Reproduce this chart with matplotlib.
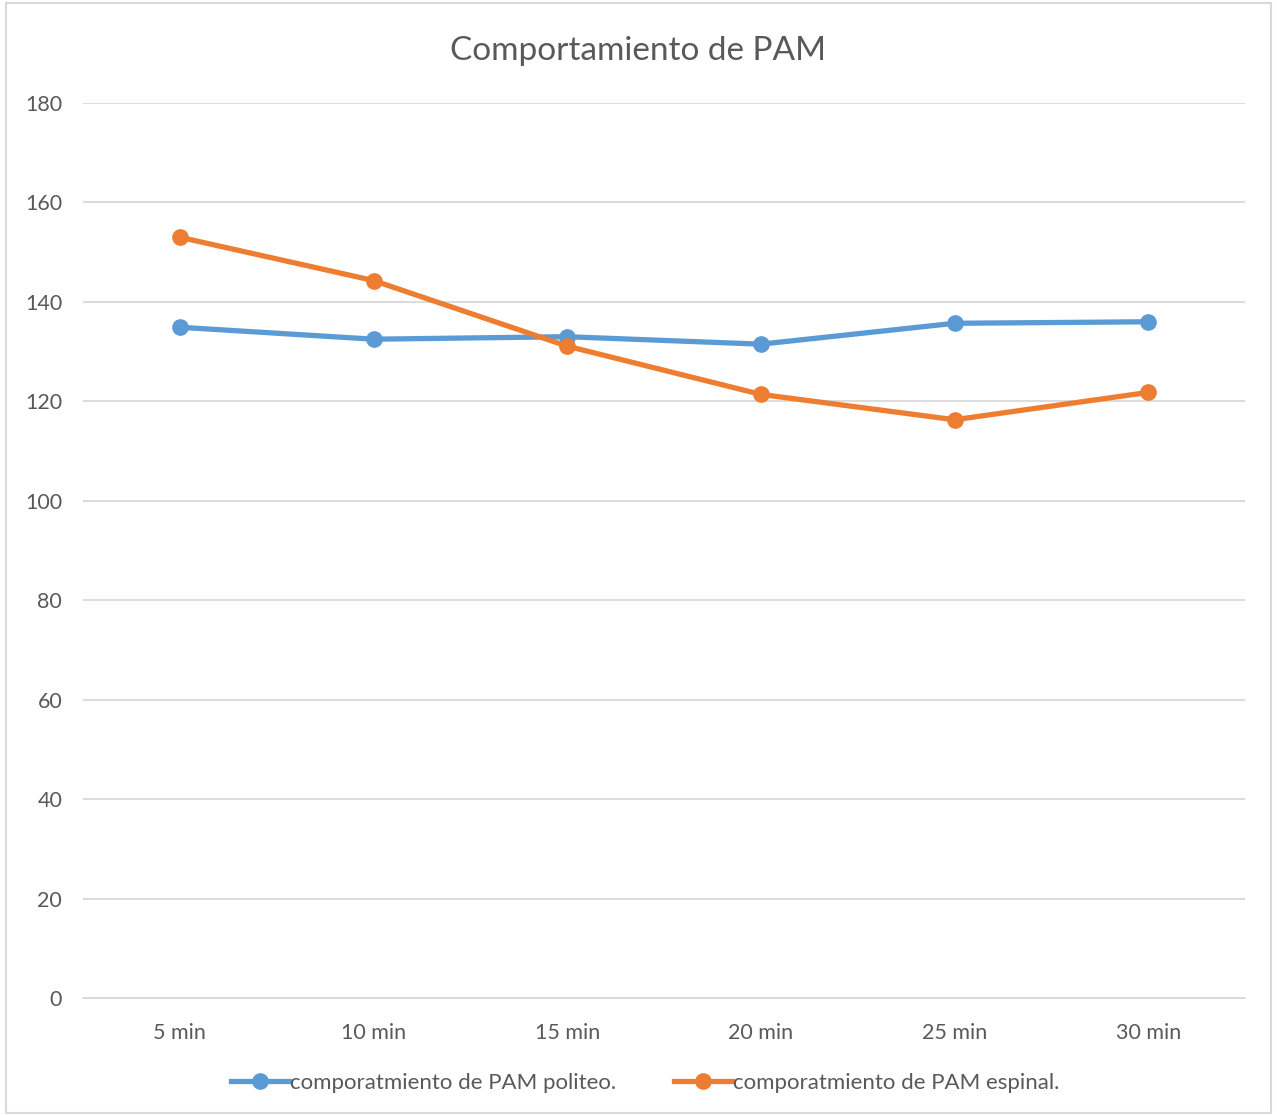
import matplotlib
matplotlib.use("Agg")
import matplotlib.pyplot as plt
from matplotlib.patches import Rectangle

plt.rcParams['font.family'] = ['Lato', 'DejaVu Sans']

categories = ["5 min", "10 min", "15 min", "20 min", "25 min", "30 min"]
politeo = [134.9, 132.5, 133.0, 131.5, 135.7, 136.0]
espinal = [153.0, 144.3, 131.1, 121.4, 116.3, 121.8]
series_names = ["comporatmiento de PAM politeo.", "comporatmiento de PAM espinal."]
yticks = [0, 20, 40, 60, 80, 100, 120, 140, 160, 180]

text_color = "#595959"
grid_color = "#D9D9D9"

fig = plt.figure(figsize=(12.77, 11.16), dpi=100)
ax = fig.add_axes([0.065, 0.1057, 0.910, 0.802])

x = list(range(len(categories)))
ax.plot(x, politeo, color="#5B9BD5", lw=3.8, marker="o", ms=11, label=series_names[0], zorder=3)
ax.plot(x, espinal, color="#ED7D31", lw=3.8, marker="o", ms=11, label=series_names[1], zorder=3)

ax.set_xlim(-0.5, len(categories) - 0.5)
ax.set_ylim(0, 180)
ax.set_yticks(yticks)
ax.set_xticks(x)
ax.set_xticklabels(categories)
ax.grid(axis="y", color=grid_color, lw=1.3)
ax.set_axisbelow(True)
for s in ["top", "right", "left"]:
    ax.spines[s].set_visible(False)
ax.spines["bottom"].set_color(grid_color)
ax.spines["bottom"].set_linewidth(1.3)
ax.tick_params(axis="both", length=0, labelsize=15.5, labelcolor=text_color)
ax.tick_params(axis="y", pad=15)
ax.tick_params(axis="x", pad=18)

fig.suptitle("Comportamiento de PAM", y=0.968, fontsize=24, color=text_color)

leg = fig.legend(loc="center", bbox_to_anchor=(0.5055, 0.030), ncol=2, frameon=False,
                 fontsize=16, labelcolor=text_color, handlelength=2.6,
                 handletextpad=0.05, columnspacing=2.6)

fig.patches.append(Rectangle((0.005, 0.003), 0.99, 0.994, transform=fig.transFigure,
                             fill=False, edgecolor=grid_color, lw=1.5))

fig.savefig("out.png", dpi=100, facecolor="white")
